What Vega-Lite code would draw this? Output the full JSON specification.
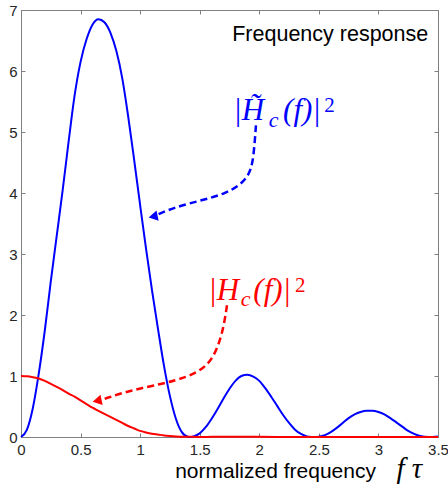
{
  "$schema": "https://vega.github.io/schema/vega-lite/v6.json",
  "width": 417,
  "height": 427,
  "autosize": {"type": "none"},
  "padding": {"left": 21, "top": 10, "right": 10, "bottom": 52},
  "background": "white",
  "config": {
    "view": {"stroke": null},
    "axis": {
      "grid": false,
      "domainColor": "#808080",
      "tickColor": "#808080",
      "labelColor": "#262626",
      "labelFont": "Liberation Sans",
      "labelFontSize": 15,
      "tickSize": -4,
      "domainWidth": 1,
      "tickWidth": 1,
      "title": null
    }
  },
  "datasets": {
    "curves": [
      {"s": "blue", "x": 0, "v": 0},
      {"s": "blue", "x": 0.05, "v": 0.12},
      {"s": "blue", "x": 0.1, "v": 0.48},
      {"s": "blue", "x": 0.15, "v": 1.05},
      {"s": "blue", "x": 0.2, "v": 1.75},
      {"s": "blue", "x": 0.25, "v": 2.55},
      {"s": "blue", "x": 0.3, "v": 3.3},
      {"s": "blue", "x": 0.35, "v": 4.05},
      {"s": "blue", "x": 0.4, "v": 4.85},
      {"s": "blue", "x": 0.45, "v": 5.6},
      {"s": "blue", "x": 0.5, "v": 6.15},
      {"s": "blue", "x": 0.55, "v": 6.52},
      {"s": "blue", "x": 0.6, "v": 6.76},
      {"s": "blue", "x": 0.65, "v": 6.85},
      {"s": "blue", "x": 0.7, "v": 6.8},
      {"s": "blue", "x": 0.75, "v": 6.63},
      {"s": "blue", "x": 0.8, "v": 6.33},
      {"s": "blue", "x": 0.85, "v": 5.88},
      {"s": "blue", "x": 0.9, "v": 5.25},
      {"s": "blue", "x": 0.95, "v": 4.54},
      {"s": "blue", "x": 1.0, "v": 3.8},
      {"s": "blue", "x": 1.05, "v": 3.08},
      {"s": "blue", "x": 1.1, "v": 2.4},
      {"s": "blue", "x": 1.15, "v": 1.77},
      {"s": "blue", "x": 1.2, "v": 1.17},
      {"s": "blue", "x": 1.25, "v": 0.67},
      {"s": "blue", "x": 1.3, "v": 0.3},
      {"s": "blue", "x": 1.35, "v": 0.08},
      {"s": "blue", "x": 1.4, "v": 0.005},
      {"s": "blue", "x": 1.43, "v": 0},
      {"s": "blue", "x": 1.45, "v": 0.01},
      {"s": "blue", "x": 1.5, "v": 0.06},
      {"s": "blue", "x": 1.55, "v": 0.16},
      {"s": "blue", "x": 1.6, "v": 0.3},
      {"s": "blue", "x": 1.65, "v": 0.46},
      {"s": "blue", "x": 1.7, "v": 0.63},
      {"s": "blue", "x": 1.75, "v": 0.79},
      {"s": "blue", "x": 1.8, "v": 0.92},
      {"s": "blue", "x": 1.85, "v": 1.0},
      {"s": "blue", "x": 1.9, "v": 1.02},
      {"s": "blue", "x": 1.95, "v": 0.99},
      {"s": "blue", "x": 2.0, "v": 0.92},
      {"s": "blue", "x": 2.05, "v": 0.8},
      {"s": "blue", "x": 2.1, "v": 0.66},
      {"s": "blue", "x": 2.15, "v": 0.51},
      {"s": "blue", "x": 2.2, "v": 0.36},
      {"s": "blue", "x": 2.25, "v": 0.23},
      {"s": "blue", "x": 2.3, "v": 0.12},
      {"s": "blue", "x": 2.35, "v": 0.05},
      {"s": "blue", "x": 2.4, "v": 0.01},
      {"s": "blue", "x": 2.47, "v": 0},
      {"s": "blue", "x": 2.5, "v": 0.005},
      {"s": "blue", "x": 2.55, "v": 0.03},
      {"s": "blue", "x": 2.6, "v": 0.08},
      {"s": "blue", "x": 2.65, "v": 0.15},
      {"s": "blue", "x": 2.7, "v": 0.23},
      {"s": "blue", "x": 2.75, "v": 0.31},
      {"s": "blue", "x": 2.8, "v": 0.37},
      {"s": "blue", "x": 2.85, "v": 0.41},
      {"s": "blue", "x": 2.9, "v": 0.43},
      {"s": "blue", "x": 2.95, "v": 0.43},
      {"s": "blue", "x": 3.0, "v": 0.41},
      {"s": "blue", "x": 3.05, "v": 0.37},
      {"s": "blue", "x": 3.1, "v": 0.31},
      {"s": "blue", "x": 3.15, "v": 0.24},
      {"s": "blue", "x": 3.2, "v": 0.17},
      {"s": "blue", "x": 3.25, "v": 0.1},
      {"s": "blue", "x": 3.3, "v": 0.05},
      {"s": "blue", "x": 3.35, "v": 0.015},
      {"s": "blue", "x": 3.42, "v": 0},
      {"s": "blue", "x": 3.5, "v": 0.01},
      {"s": "red", "x": 0, "v": 1.0},
      {"s": "red", "x": 0.05, "v": 0.995},
      {"s": "red", "x": 0.1, "v": 0.98},
      {"s": "red", "x": 0.15, "v": 0.96},
      {"s": "red", "x": 0.2, "v": 0.92},
      {"s": "red", "x": 0.25, "v": 0.87},
      {"s": "red", "x": 0.3, "v": 0.82},
      {"s": "red", "x": 0.35, "v": 0.77},
      {"s": "red", "x": 0.4, "v": 0.71},
      {"s": "red", "x": 0.45, "v": 0.66},
      {"s": "red", "x": 0.5, "v": 0.6},
      {"s": "red", "x": 0.55, "v": 0.54},
      {"s": "red", "x": 0.6, "v": 0.48},
      {"s": "red", "x": 0.65, "v": 0.43},
      {"s": "red", "x": 0.7, "v": 0.38},
      {"s": "red", "x": 0.75, "v": 0.33},
      {"s": "red", "x": 0.8, "v": 0.28},
      {"s": "red", "x": 0.85, "v": 0.23},
      {"s": "red", "x": 0.9, "v": 0.18},
      {"s": "red", "x": 0.95, "v": 0.14},
      {"s": "red", "x": 1.0, "v": 0.1},
      {"s": "red", "x": 1.05, "v": 0.075},
      {"s": "red", "x": 1.1, "v": 0.055},
      {"s": "red", "x": 1.15, "v": 0.04},
      {"s": "red", "x": 1.2, "v": 0.025},
      {"s": "red", "x": 1.25, "v": 0.015},
      {"s": "red", "x": 1.3, "v": 0.008},
      {"s": "red", "x": 1.4, "v": 0.003},
      {"s": "red", "x": 1.5, "v": 0},
      {"s": "red", "x": 1.6, "v": 0.003},
      {"s": "red", "x": 1.8, "v": 0.006},
      {"s": "red", "x": 2.0, "v": 0.003},
      {"s": "red", "x": 2.2, "v": 0},
      {"s": "red", "x": 2.5, "v": 0},
      {"s": "red", "x": 3.0, "v": 0},
      {"s": "red", "x": 3.5, "v": 0}
    ],
    "arrows": [
      {"g": "blue", "o": 1, "x": 1.972, "y": 5.11},
      {"g": "blue", "o": 2, "x": 1.961, "y": 4.81},
      {"g": "blue", "o": 3, "x": 1.944, "y": 4.48},
      {"g": "blue", "o": 4, "x": 1.91, "y": 4.29},
      {"g": "blue", "o": 5, "x": 1.84, "y": 4.13},
      {"g": "blue", "o": 6, "x": 1.714, "y": 3.99},
      {"g": "blue", "o": 7, "x": 1.519, "y": 3.88},
      {"g": "blue", "o": 8, "x": 1.294, "y": 3.77},
      {"g": "blue", "o": 9, "x": 1.151, "y": 3.65},
      {"g": "red", "o": 1, "x": 1.729, "y": 2.16},
      {"g": "red", "o": 2, "x": 1.706, "y": 1.86},
      {"g": "red", "o": 3, "x": 1.672, "y": 1.59},
      {"g": "red", "o": 4, "x": 1.616, "y": 1.31},
      {"g": "red", "o": 5, "x": 1.532, "y": 1.12},
      {"g": "red", "o": 6, "x": 1.392, "y": 0.98},
      {"g": "red", "o": 7, "x": 1.196, "y": 0.875},
      {"g": "red", "o": 8, "x": 0.916, "y": 0.765},
      {"g": "red", "o": 9, "x": 0.689, "y": 0.618}
    ],
    "heads": [
      {"g": "blue", "x": 1.109, "y": 3.615},
      {"g": "red", "x": 0.639, "y": 0.595}
    ],
    "mathmain": [
      {"g": "blue", "x": 1.782, "y": 5.19, "t": "|H̃"},
      {"g": "blue", "x": 2.2, "y": 5.19, "t": "(f)|"},
      {"g": "red", "x": 1.571, "y": 2.24, "t": "|H"},
      {"g": "red", "x": 1.95, "y": 2.24, "t": "(f)|"}
    ],
    "mathsub": [
      {"g": "blue", "x": 2.08, "y": 5.09, "t": "c"},
      {"g": "red", "x": 1.845, "y": 2.14, "t": "c"}
    ],
    "mathsup": [
      {"g": "blue", "x": 2.545, "y": 5.32, "t": "2"},
      {"g": "red", "x": 2.3, "y": 2.37, "t": "2"}
    ]
  },
  "layer": [
    {
      "data": {"name": "curves"},
      "mark": {"type": "line", "strokeWidth": 2, "interpolate": "monotone"},
      "encoding": {
        "x": {"field": "x", "type": "quantitative", "scale": {"domain": [0, 3.5], "nice": false, "zero": false},
              "axis": {"orient": "bottom", "values": [0, 0.5, 1, 1.5, 2, 2.5, 3, 3.5], "format": "~g", "labelFlush": false, "labelPadding": 9}},
        "y": {"field": "v", "type": "quantitative", "scale": {"domain": [0, 7], "nice": false},
              "axis": {"orient": "left", "values": [0, 1, 2, 3, 4, 5, 6, 7], "labelPadding": 8, "labelFlush": false}},
        "color": {"field": "s", "type": "nominal", "scale": {"domain": ["blue", "red"], "range": ["#0000ff", "#ff0000"]}, "legend": null}
      }
    },
    {
      "data": {"values": [{"x": 1.773, "y": 6.5, "t": "Frequency response"}]},
      "mark": {"type": "text", "align": "left", "baseline": "alphabetic", "font": "Liberation Sans", "fontSize": 21.5, "color": "#000000"},
      "encoding": {
        "x": {"field": "x", "type": "quantitative", "axis": {"orient": "top", "values": [0, 0.5, 1, 1.5, 2, 2.5, 3, 3.5], "labels": false}},
        "y": {"field": "y", "type": "quantitative", "axis": {"orient": "right", "values": [0, 1, 2, 3, 4, 5, 6, 7], "labels": false}},
        "text": {"field": "t"}
      }
    },
    {
      "data": {"name": "arrows"},
      "mark": {"type": "line", "strokeWidth": 2.5, "strokeDash": [7, 4], "interpolate": "basis"},
      "encoding": {
        "x": {"field": "x", "type": "quantitative", "axis": null},
        "y": {"field": "y", "type": "quantitative", "axis": null},
        "order": {"field": "o", "type": "quantitative"},
        "color": {"field": "g", "type": "nominal", "legend": null}
      }
    },
    {
      "data": {"name": "heads"},
      "mark": {"type": "point", "shape": "triangle-left", "filled": true, "size": 110, "angle": 348, "opacity": 1},
      "encoding": {
        "x": {"field": "x", "type": "quantitative", "axis": null},
        "y": {"field": "y", "type": "quantitative", "axis": null},
        "color": {"field": "g", "type": "nominal", "legend": null}
      }
    },
    {
      "data": {"name": "mathmain"},
      "mark": {"type": "text", "align": "left", "baseline": "alphabetic", "font": "Liberation Serif", "fontStyle": "italic", "fontSize": 31},
      "encoding": {
        "x": {"field": "x", "type": "quantitative", "axis": null},
        "y": {"field": "y", "type": "quantitative", "axis": null},
        "text": {"field": "t"},
        "color": {"field": "g", "type": "nominal", "legend": null}
      }
    },
    {
      "data": {"name": "mathsub"},
      "mark": {"type": "text", "align": "left", "baseline": "alphabetic", "font": "Liberation Serif", "fontStyle": "italic", "fontSize": 22},
      "encoding": {
        "x": {"field": "x", "type": "quantitative", "axis": null},
        "y": {"field": "y", "type": "quantitative", "axis": null},
        "text": {"field": "t"},
        "color": {"field": "g", "type": "nominal", "legend": null}
      }
    },
    {
      "data": {"name": "mathsup"},
      "mark": {"type": "text", "align": "left", "baseline": "alphabetic", "font": "Liberation Serif", "fontSize": 21},
      "encoding": {
        "x": {"field": "x", "type": "quantitative", "axis": null},
        "y": {"field": "y", "type": "quantitative", "axis": null},
        "text": {"field": "t"},
        "color": {"field": "g", "type": "nominal", "legend": null}
      }
    },
    {
      "data": {"values": [{"x": 1.294, "y": -0.68, "t": "normalized frequency"}]},
      "mark": {"type": "text", "align": "left", "baseline": "alphabetic", "font": "Liberation Sans", "fontSize": 21, "color": "#000000"},
      "encoding": {
        "x": {"field": "x", "type": "quantitative", "axis": null},
        "y": {"field": "y", "type": "quantitative", "axis": null},
        "text": {"field": "t"}
      }
    },
    {
      "data": {"values": [{"x": 3.151, "y": -0.68, "t": "f τ"}]},
      "mark": {"type": "text", "align": "left", "baseline": "alphabetic", "font": "Liberation Serif", "fontStyle": "italic", "fontSize": 29, "color": "#000000"},
      "encoding": {
        "x": {"field": "x", "type": "quantitative", "axis": null},
        "y": {"field": "y", "type": "quantitative", "axis": null},
        "text": {"field": "t"}
      }
    }
  ],
  "resolve": {"axis": {"x": "independent", "y": "independent"}}
}
